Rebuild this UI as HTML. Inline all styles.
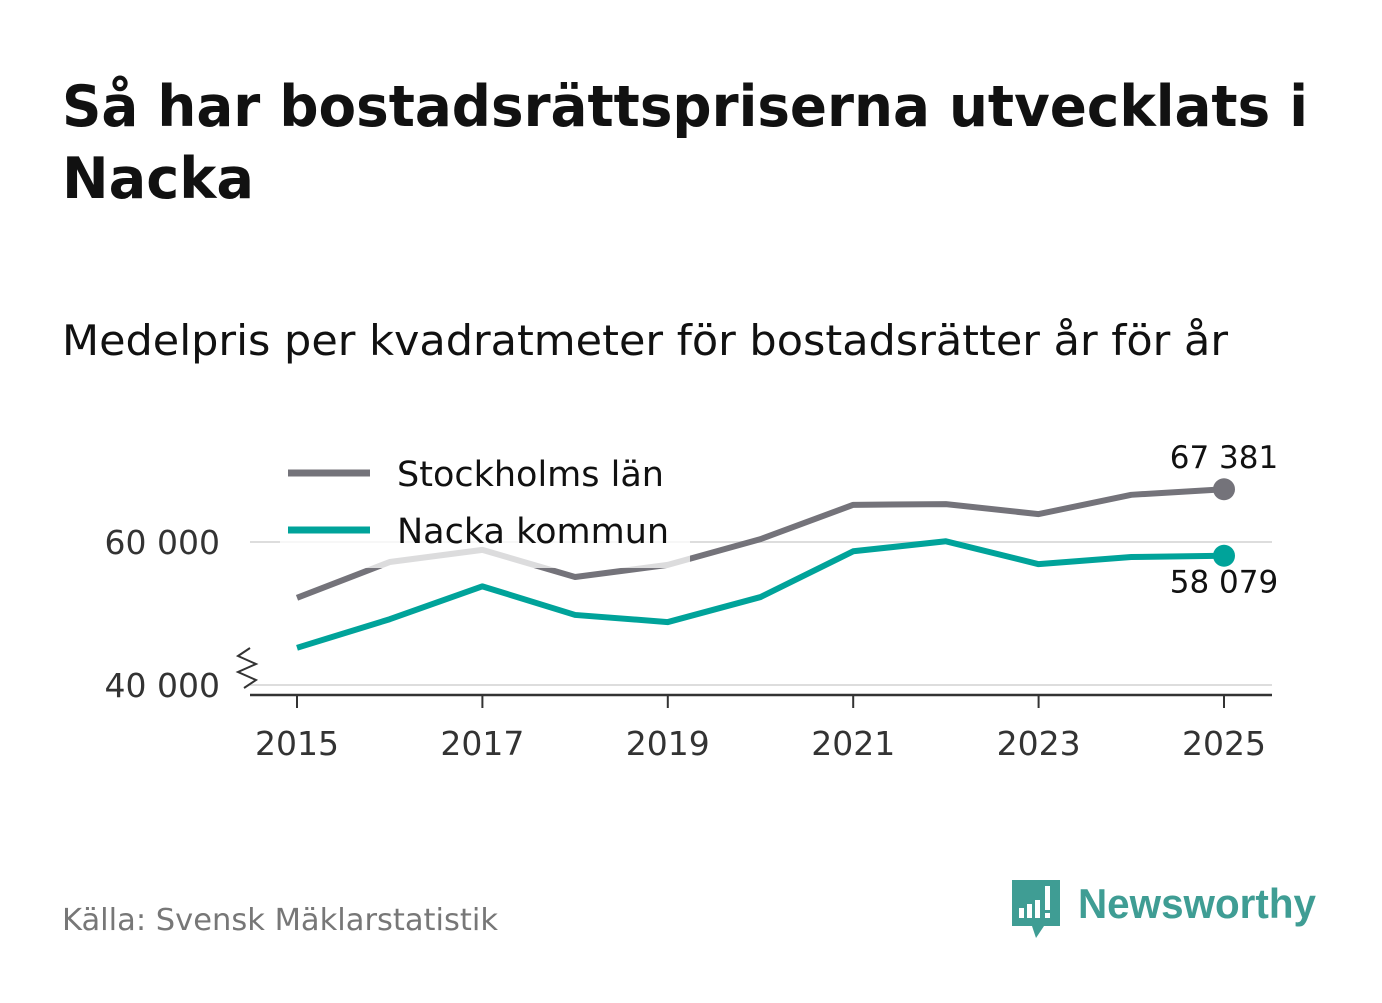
<!DOCTYPE html>
<html><head><meta charset="utf-8"><style>
body{margin:0;width:1382px;height:999px;background:#fff;font-family:"DejaVu Sans","Liberation Sans",sans-serif;overflow:hidden}
</style></head><body>
<svg width="1382" height="999" xmlns="http://www.w3.org/2000/svg" id="svg">
<text x="62" y="126" font-size="57" font-weight="bold" fill="#111" textLength="1246" lengthAdjust="spacingAndGlyphs">Så har bostadsrättspriserna utvecklats i</text>
<text x="62" y="198" font-size="57" font-weight="bold" fill="#111" textLength="192" lengthAdjust="spacingAndGlyphs">Nacka</text>
<text x="62" y="355" font-size="42" fill="#111" textLength="1166" lengthAdjust="spacingAndGlyphs">Medelpris per kvadratmeter för bostadsrätter år för år</text>
<g id="plot"></g>
<text x="62" y="930" font-size="30" fill="#777" textLength="436" lengthAdjust="spacingAndGlyphs">Källa: Svensk Mäklarstatistik</text>
<g>
<path d="M1012 880h48v46h-16l-8 12-4-12h-20z" fill="#3f9d94"/>
<rect x="1019" y="908" width="5" height="10" fill="#fff"/><rect x="1027" y="904" width="5" height="14" fill="#fff"/><rect x="1035" y="900" width="5" height="18" fill="#fff"/><rect x="1045" y="886" width="5" height="24" fill="#fff"/><rect x="1045" y="913" width="5" height="5" fill="#fff"/>
<text x="1078" y="918" font-size="42" font-weight="bold" fill="#3f9d94" font-family="Liberation Sans, sans-serif" textLength="238" lengthAdjust="spacingAndGlyphs">Newsworthy</text>
</g>
</svg>
<script>
const years=[2015,2016,2017,2018,2019,2020,2021,2022,2023,2024,2025];
const stockholm=[52200,57200,58900,55100,56800,60400,65200,65300,63900,66600,67381];
const nacka=[45200,49200,53800,49800,48800,52300,58700,60100,56900,57900,58079];
const yTicks=[40000,60000];
const xTicks=[2015,2017,2019,2021,2023,2025];
const NS="http://www.w3.org/2000/svg";
const g=document.getElementById('plot');
const x=v=>297+(v-2015)*92.7;
const y=v=>542-(v-60000)*0.00715;
function el(t,a,txt){const e=document.createElementNS(NS,t);for(const k in a)e.setAttribute(k,a[k]);if(txt!==undefined)e.textContent=txt;g.appendChild(e);return e;}
yTicks.forEach(t=>{
 const l=el('line',{x1:250,x2:1272,y1:y(t),y2:y(t),stroke:'#ddd','stroke-width':2});
 
 
 const tx=el('text',{x:220,y:y(t)+12,'font-size':33,fill:'#333','text-anchor':'end'},String(t).replace(/(\d+)(\d{3})$/,'$1 $2'));
 
 
});
const ax=el('line',{x1:250,x2:1272,y1:695,y2:695,stroke:'#333','stroke-width':2.5});


const br=el('path',{d:'M250 648l-12 8 18 8-18 8 18 8-12 8',fill:'none',stroke:'#333','stroke-width':2});


xTicks.forEach(t=>{
 const l=el('line',{x1:x(t),x2:x(t),y1:695,y2:708,stroke:'#333','stroke-width':2});
 
 
 const tx=el('text',{x:x(t),y:755,'font-size':33,fill:'#333','text-anchor':'middle'},t);
 
 
});
function series(vals,col,name){
 const p=el('polyline',{points:vals.map((v,i)=>x(years[i])+','+y(v)).join(' '),fill:'none',stroke:col,'stroke-width':6,'stroke-linejoin':'round'});
 
 
 const n=vals.length-1;
 const c=el('circle',{cx:x(years[n]),cy:y(vals[n]),r:11,fill:col});
 
 
}
series(stockholm,'#74737a','stockholm');
series(nacka,'#00a39a','nacka');
const n=years.length-1;
const l1=el('text',{x:1224,y:y(stockholm[n])-21,'font-size':31,fill:'#111','text-anchor':'middle'},'67 381');


const l2=el('text',{x:1224,y:y(nacka[n])+37,'font-size':31,fill:'#111','text-anchor':'middle'},'58 079');


const bg=el('rect',{x:280,y:440,width:410,height:128,fill:'#fff','fill-opacity':0.75});


[['Stockholms län','#74737a',473],['Nacka kommun','#00a39a',530]].forEach(([t,c,yy])=>{
 const l=el('line',{x1:288,x2:370,y1:yy,y2:yy,stroke:c,'stroke-width':7});
 
 
 const tx=el('text',{x:397,y:yy+13,'font-size':35,fill:'#111'},t);
 
 
});
</script>
</body></html>
